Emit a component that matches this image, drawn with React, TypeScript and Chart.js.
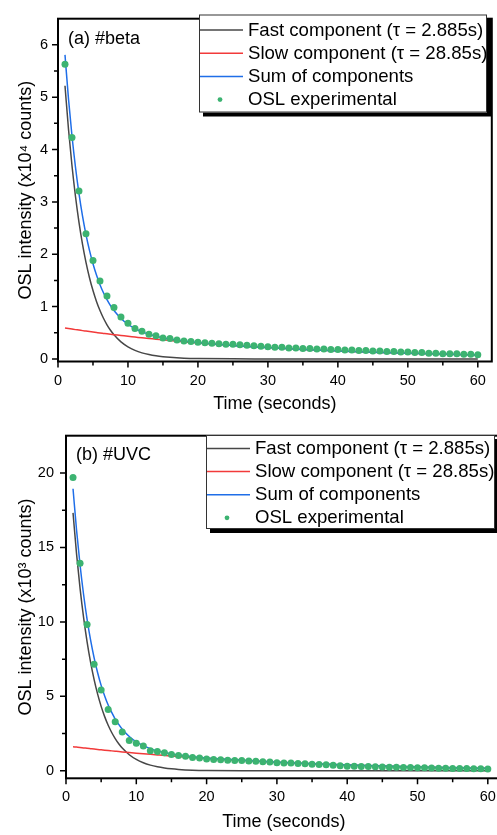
import React, { useEffect, useRef } from "react";
import { Chart, registerables } from "chart.js";

Chart.register(...registerables);

// ---------------- DATA ----------------
const T_POINTS = [
  1, 2, 3, 4, 5, 6, 7, 8, 9, 10, 11, 12, 13, 14, 15, 16, 17, 18, 19, 20,
  21, 22, 23, 24, 25, 26, 27, 28, 29, 30, 31, 32, 33, 34, 35, 36, 37, 38, 39, 40,
  41, 42, 43, 44, 45, 46, 47, 48, 49, 50, 51, 52, 53, 54, 55, 56, 57, 58, 59, 60,
];

// (a) #beta, x10^4 counts
const A_EXPERIMENTAL = [
  5.63, 4.23, 3.21, 2.39, 1.88, 1.49, 1.2, 0.98, 0.8, 0.68,
  0.58, 0.53, 0.47, 0.44, 0.4, 0.39, 0.36, 0.34, 0.33, 0.32,
  0.31, 0.3, 0.29, 0.28, 0.28, 0.27, 0.26, 0.25, 0.24, 0.23,
  0.22, 0.22, 0.21, 0.21, 0.2, 0.2, 0.19, 0.19, 0.18, 0.18,
  0.17, 0.17, 0.16, 0.16, 0.15, 0.15, 0.14, 0.14, 0.13, 0.13,
  0.12, 0.12, 0.11, 0.11, 0.1, 0.1, 0.1, 0.09, 0.09, 0.08,
];

// (b) #UVC, x10^3 counts
const B_EXPERIMENTAL = [
  19.69, 13.94, 9.82, 7.16, 5.42, 4.12, 3.3, 2.6, 2.03, 1.85,
  1.67, 1.35, 1.3, 1.22, 1.09, 1.03, 0.98, 0.9, 0.86, 0.8,
  0.76, 0.74, 0.72, 0.7, 0.7, 0.66, 0.64, 0.61, 0.59, 0.55,
  0.53, 0.52, 0.49, 0.47, 0.44, 0.42, 0.41, 0.38, 0.34, 0.31,
  0.31, 0.3, 0.29, 0.27, 0.26, 0.25, 0.24, 0.23, 0.22, 0.2,
  0.2, 0.19, 0.18, 0.17, 0.16, 0.16, 0.15, 0.14, 0.14, 0.13,
];

const T_CURVE = [
  1, 1.5, 2, 2.5, 3, 3.5, 4, 4.5, 5, 5.5, 6, 6.5, 7, 7.5, 8, 9, 10, 11, 12, 13,
  14, 15, 16, 18, 20, 25, 30, 35, 40, 45, 50, 55, 60,
];

const A_FAST = [
  5.219, 4.388, 3.69, 3.103, 2.609, 2.194, 1.845, 1.551, 1.305, 1.097, 0.923, 0.776,
  0.652, 0.548, 0.461, 0.326, 0.231, 0.163, 0.115, 0.082, 0.058, 0.041, 0.029, 0.014,
  0.007, 0.001, 0, 0, 0, 0, 0, 0, 0,
];
const A_SLOW = [
  0.589, 0.579, 0.569, 0.559, 0.55, 0.54, 0.531, 0.522, 0.513, 0.504, 0.495, 0.487,
  0.479, 0.47, 0.462, 0.447, 0.431, 0.417, 0.402, 0.389, 0.376, 0.363, 0.35, 0.327,
  0.305, 0.256, 0.216, 0.181, 0.153, 0.128, 0.108, 0.091, 0.076,
];
const A_SUM = [
  5.808, 4.967, 4.259, 3.662, 3.159, 2.734, 2.376, 2.073, 1.818, 1.601, 1.418, 1.263,
  1.131, 1.018, 0.923, 0.773, 0.662, 0.58, 0.517, 0.471, 0.434, 0.404, 0.379, 0.341,
  0.312, 0.257, 0.216, 0.181, 0.153, 0.128, 0.108, 0.091, 0.076,
];

const B_FAST = [
  17.32, 14.57, 12.25, 10.3, 8.66, 7.28, 6.125, 5.15, 4.33, 3.64, 3.06, 2.575,
  2.166, 1.82, 1.531, 1.083, 0.766, 0.541, 0.383, 0.271, 0.191, 0.135, 0.096, 0.048,
  0.024, 0.004, 0.001, 0, 0, 0, 0, 0, 0,
];
const B_SLOW = [
  1.623, 1.595, 1.567, 1.541, 1.514, 1.488, 1.462, 1.437, 1.413, 1.388, 1.364, 1.341,
  1.318, 1.295, 1.273, 1.23, 1.188, 1.147, 1.108, 1.071, 1.034, 0.999, 0.965, 0.9,
  0.84, 0.71, 0.58, 0.48, 0.39, 0.32, 0.26, 0.21, 0.17,
];
const B_SUM = [
  18.94, 16.17, 13.82, 11.84, 10.17, 8.77, 7.59, 6.59, 5.74, 5.03, 4.42, 3.92,
  3.48, 3.12, 2.8, 2.31, 1.95, 1.69, 1.49, 1.34, 1.23, 1.13, 1.06, 0.95,
  0.86, 0.71, 0.58, 0.48, 0.39, 0.32, 0.26, 0.21, 0.17,
];

const X_TICKS = [0, 10, 20, 30, 40, 50, 60];
const A_Y_TICKS = [0, 1, 2, 3, 4, 5, 6];
const B_Y_TICKS = [0, 5, 10, 15, 20];

const LEGEND_LABELS = [
  "Fast component (\u03C4 = 2.885s)",
  "Slow component (\u03C4 = 28.85s)",
  "Sum of components",
  "OSL experimental",
];
const X_TITLE = "Time (seconds)";
const A_Y_TITLE = "OSL intensity (x10\u2074 counts)";
const B_Y_TITLE = "OSL intensity (x10\u00B3 counts)";
const A_LABEL = "(a) #beta";
const B_LABEL = "(b) #UVC";

// ---------------- STYLE ----------------
const FONT = "'Liberation Sans', Arial, Helvetica, sans-serif";
const C_FAST = "#474747";
const C_SLOW = "#f23a3a";
const C_SUM = "#1f6ee8";
const C_POINT = "#3cb371";

type Spec = {
  top: number;
  w: number;
  h: number;
  padTop: number;
  padRight: number;
  yAxisW: number;
  xAxisH: number;
  xMax: number;
  yMin: number;
  yMax: number;
  yTicks: number[];
  yTickPad: number;
  xTickPad: number;
  xTitlePad: number;
  yTitlePad: number;
  yTitle: string;
  label: string;
  labelDy: number;
  fast: number[];
  slow: number[];
  sum: number[];
  exp: number[];
  legend: { x: number; y: number; w: number; h: number; rowStart: number; rowGap: number };
};

const SPEC_A: Spec = {
  top: 0,
  w: 497,
  h: 420,
  padTop: 7,
  padRight: 1,
  yAxisW: 58,
  xAxisH: 58.5,
  xMax: 62,
  yMin: -0.05,
  yMax: 6.5,
  yTicks: A_Y_TICKS,
  yTickPad: 10,
  xTickPad: 11,
  xTitlePad: 5,
  yTitlePad: 15,
  yTitle: A_Y_TITLE,
  label: A_LABEL,
  labelDy: 20,
  fast: A_FAST,
  slow: A_SLOW,
  sum: A_SUM,
  exp: A_EXPERIMENTAL,
  legend: { x: 199, y: 14.5, w: 288, h: 98, rowStart: 15.5, rowGap: 23.2 },
};

const SPEC_B: Spec = {
  top: 415,
  w: 506,
  h: 420,
  padTop: 9.8,
  padRight: 1,
  yAxisW: 66,
  xAxisH: 56.7,
  xMax: 62,
  yMin: -0.5,
  yMax: 22.5,
  yTicks: B_Y_TICKS,
  yTickPad: 12,
  xTickPad: 10,
  xTitlePad: 2.5,
  yTitlePad: 15,
  yTitle: B_Y_TITLE,
  label: B_LABEL,
  labelDy: 19,
  fast: B_FAST,
  slow: B_SLOW,
  sum: B_SUM,
  exp: B_EXPERIMENTAL,
  legend: { x: 206, y: 20, w: 289, h: 94, rowStart: 13.5, rowGap: 23.1 },
};

function midpoints(v: number[]): number[] {
  const out: number[] = [];
  for (let i = 0; i < v.length - 1; i++) out.push((v[i] + v[i + 1]) / 2);
  return out;
}

function makeDecor(spec: Spec) {
  return {
    id: "decor",
    afterDatasetsDraw(chart: any) {
      const { ctx, chartArea: a, scales } = chart;
      const xs = scales.x;
      const ys = scales.y;
      ctx.save();
      // frame
      ctx.strokeStyle = "#000";
      ctx.lineWidth = 2;
      ctx.strokeRect(a.left, a.top, a.right - a.left, a.bottom - a.top);
      // ticks
      ctx.lineWidth = 1.5;
      ctx.beginPath();
      X_TICKS.forEach((v) => {
        const p = xs.getPixelForValue(v);
        ctx.moveTo(p, a.bottom);
        ctx.lineTo(p, a.bottom + 6);
      });
      midpoints(X_TICKS).forEach((v) => {
        const p = xs.getPixelForValue(v);
        ctx.moveTo(p, a.bottom);
        ctx.lineTo(p, a.bottom + 4);
      });
      spec.yTicks.forEach((v) => {
        const p = ys.getPixelForValue(v);
        ctx.moveTo(a.left, p);
        ctx.lineTo(a.left - 6, p);
      });
      midpoints(spec.yTicks).forEach((v) => {
        const p = ys.getPixelForValue(v);
        ctx.moveTo(a.left, p);
        ctx.lineTo(a.left - 4, p);
      });
      ctx.stroke();

      // panel label
      ctx.fillStyle = "#000";
      ctx.font = `18px ${FONT}`;
      ctx.textBaseline = "middle";
      ctx.textAlign = "left";
      ctx.fillText(spec.label, a.left + 10, a.top + spec.labelDy);

      // legend
      const L = spec.legend;
      ctx.fillStyle = "#000";
      ctx.fillRect(L.x + 4, L.y + 4, L.w, L.h);
      ctx.fillStyle = "#fff";
      ctx.fillRect(L.x, L.y, L.w, L.h);
      ctx.strokeStyle = "#333";
      ctx.lineWidth = 1;
      ctx.strokeRect(L.x + 0.5, L.y + 0.5, L.w - 1, L.h - 1);
      const ds = chart.data.datasets;
      ctx.font = `18.6px ${FONT}`;
      for (let i = 0; i < 4; i++) {
        const y = L.y + L.rowStart + i * L.rowGap;
        const d = ds[i];
        if (i < 3) {
          ctx.strokeStyle = d.borderColor;
          ctx.lineWidth = d.borderWidth;
          ctx.beginPath();
          ctx.moveTo(L.x + 1, y);
          ctx.lineTo(L.x + 44, y);
          ctx.stroke();
        } else {
          ctx.fillStyle = d.backgroundColor;
          ctx.beginPath();
          ctx.arc(L.x + 21, y, 2.4, 0, Math.PI * 2);
          ctx.fill();
        }
        ctx.fillStyle = "#000";
        ctx.fillText(LEGEND_LABELS[i], L.x + 49, y + 0.5);
      }
      ctx.restore();
    },
  };
}

function Panel({ spec }: { spec: Spec }) {
  const ref = useRef<HTMLCanvasElement>(null);
  useEffect(() => {
    const canvas = ref.current!;
    const curve = (vals: number[]) => T_CURVE.map((t, i) => ({ x: t, y: vals[i] }));
    const chart = new Chart(canvas, {
      type: "scatter",
      data: {
        datasets: [
          {
            label: LEGEND_LABELS[0],
            data: curve(spec.fast),
            showLine: true,
            borderColor: C_FAST,
            borderWidth: 1.5,
            pointRadius: 0,
            cubicInterpolationMode: "monotone",
            order: 3,
          },
          {
            label: LEGEND_LABELS[1],
            data: curve(spec.slow),
            showLine: true,
            borderColor: C_SLOW,
            borderWidth: 1.5,
            pointRadius: 0,
            cubicInterpolationMode: "monotone",
            order: 2,
          },
          {
            label: LEGEND_LABELS[2],
            data: curve(spec.sum),
            showLine: true,
            borderColor: C_SUM,
            borderWidth: 1.5,
            pointRadius: 0,
            cubicInterpolationMode: "monotone",
            order: 1,
          },
          {
            label: LEGEND_LABELS[3],
            data: T_POINTS.map((t, i) => ({ x: t, y: spec.exp[i] })),
            showLine: false,
            backgroundColor: C_POINT,
            borderColor: C_POINT,
            borderWidth: 0,
            pointRadius: 3.5,
            order: 0,
          },
        ] as any,
      },
      options: {
        animation: false,
        responsive: false,
        devicePixelRatio: 1,
        layout: { padding: { top: spec.padTop, right: spec.padRight, left: 0, bottom: 0 } },
        plugins: { legend: { display: false }, tooltip: { enabled: false } },
        scales: {
          x: {
            type: "linear",
            min: 0,
            max: spec.xMax,
            grid: { display: false, drawTicks: false },
            border: { display: false },
            afterBuildTicks: (s: any) => {
              s.ticks = X_TICKS.map((v) => ({ value: v }));
            },
            afterFit: (s: any) => {
              s.height = spec.xAxisH;
            },
            ticks: {
              autoSkip: false,
              maxRotation: 0,
              padding: spec.xTickPad,
              color: "#000",
              font: { family: FONT, size: 14.5 },
            },
            title: {
              display: true,
              text: X_TITLE,
              color: "#000",
              font: { family: FONT, size: 18 },
              padding: { top: 0, bottom: spec.xTitlePad },
            },
          },
          y: {
            type: "linear",
            min: spec.yMin,
            max: spec.yMax,
            grid: { display: false, drawTicks: false },
            border: { display: false },
            afterBuildTicks: (s: any) => {
              s.ticks = spec.yTicks.map((v) => ({ value: v }));
            },
            afterFit: (s: any) => {
              s.width = spec.yAxisW;
            },
            ticks: {
              autoSkip: false,
              padding: spec.yTickPad,
              color: "#000",
              font: { family: FONT, size: 14.5 },
            },
            title: {
              display: true,
              text: spec.yTitle,
              color: "#000",
              font: { family: FONT, size: 18 },
              padding: { top: spec.yTitlePad, bottom: 0 },
            },
          },
        },
      } as any,
      plugins: [makeDecor(spec)],
    });
    return () => chart.destroy();
  }, []);
  return (
    <canvas
      ref={ref}
      width={spec.w}
      height={spec.h}
      style={{ position: "absolute", left: 0, top: spec.top, width: spec.w, height: spec.h }}
    />
  );
}

export default function App() {
  return (
    <div
      style={{
        position: "fixed",
        left: 0,
        top: 0,
        width: 497,
        height: 835,
        overflow: "hidden",
        background: "#fff",
      }}
    >
      <Panel spec={SPEC_A} />
      <Panel spec={SPEC_B} />
    </div>
  );
}
